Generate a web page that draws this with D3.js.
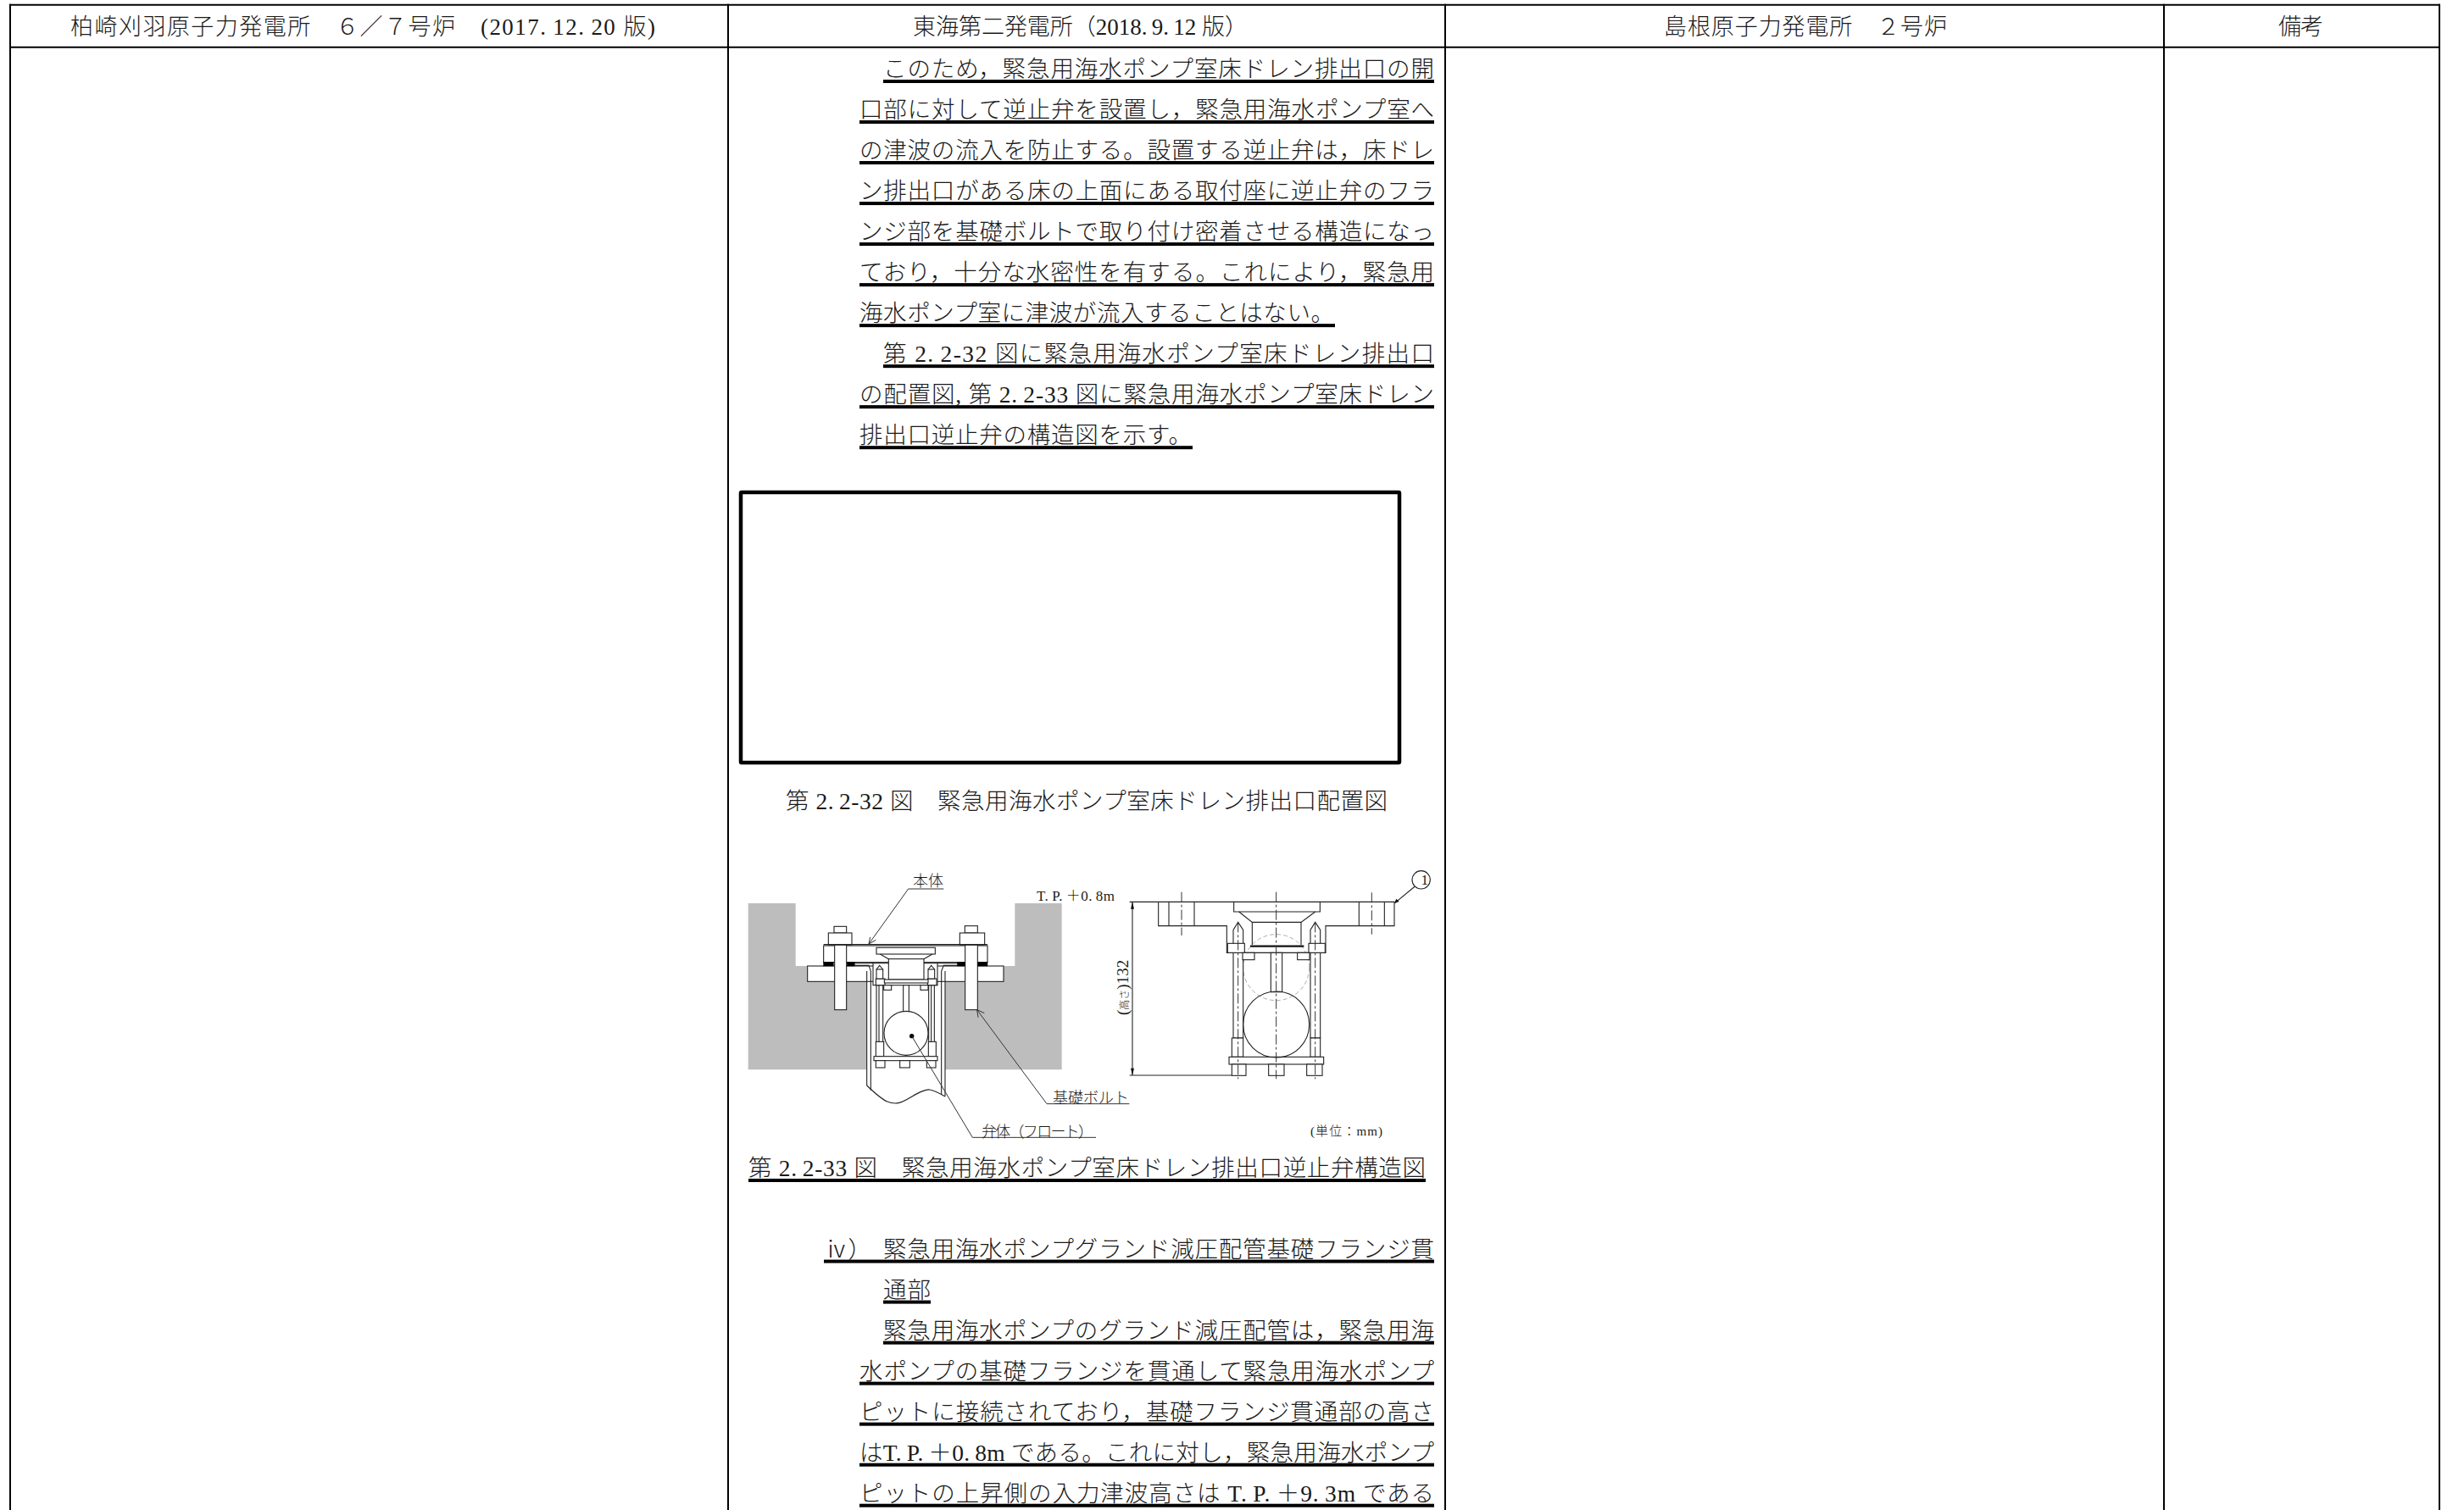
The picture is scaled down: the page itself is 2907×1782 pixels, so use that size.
<!DOCTYPE html>
<html>
<head>
<meta charset="utf-8">
<script src="https://cdn.jsdelivr.net/npm/d3@7"></script>
<style>
  html, body { margin: 0; background: #fff; }
  text { font-family: "Liberation Serif", "Noto Sans CJK JP", serif; font-weight: 300; fill: #1a1a1a; }
</style>
</head>
<body>
<div id="sheet"></div>
<script>
const width = 2907, height = 1782;

// table
const columnEdges = [12, 859, 1705, 2553, 2878];
const headerLabels = ['柏崎刈羽原子力発電所　６／７号炉　(2017.\u200912.\u200920 版)', '東海第二発電所（2018.\u20099.\u200912 版）', '島根原子力発電所　２号炉', '備考'];
const headerStarts = [83, 1077, 1963, 2688];
const headerEnds = [773, 1472, 2297, 2741];

// body text, one entry per printed line
const bodyLines = [
  'このため，緊急用海水ポンプ室床ドレン排出口の開',
  '口部に対して逆止弁を設置し，緊急用海水ポンプ室へ',
  'の津波の流入を防止する。設置する逆止弁は，床ドレ',
  'ン排出口がある床の上面にある取付座に逆止弁のフラ',
  'ンジ部を基礎ボルトで取り付け密着させる構造になっ',
  'ており，十分な水密性を有する。これにより，緊急用',
  '海水ポンプ室に津波が流入することはない。',
  '第 2.\u20092-32 図に緊急用海水ポンプ室床ドレン排出口',
  'の配置図, 第 2.\u20092-33 図に緊急用海水ポンプ室床ドレン',
  '排出口逆止弁の構造図を示す。',
  '緊急用海水ポンプグランド減圧配管基礎フランジ貫',
  '通部',
  '緊急用海水ポンプのグランド減圧配管は，緊急用海',
  '水ポンプの基礎フランジを貫通して緊急用海水ポンプ',
  'ピットに接続されており，基礎フランジ貫通部の高さ',
  'はT.\u2009P.\u2009＋0.\u20098m である。これに対し，緊急用海水ポンプ',
  'ピットの上昇側の入力津波高さは T.\u2009P.\u2009＋9.\u20093m である'
];
const bodyRows = [0, 1, 2, 3, 4, 5, 6, 7, 8, 9, 29, 30, 31, 32, 33, 34, 35];
const bodyStarts = [1042, 1014, 1014, 1014, 1014, 1014, 1014, 1042, 1014, 1014, 1042, 1042, 1042, 1014, 1014, 1014, 1014];
const bodyEnds = [1692, 1692, 1692, 1692, 1692, 1692, 1574, 1692, 1692, 1406, 1692, 1098, 1692, 1692, 1692, 1692, 1692];
const ruleStarts = [1042, 1014, 1014, 1014, 1014, 1014, 1014, 1042, 1014, 1014, 972, 1042, 1042, 1014, 1014, 1014, 1014];
const ruleEnds = [1692, 1692, 1692, 1692, 1692, 1692, 1575, 1692, 1692, 1407, 1692, 1098, 1692, 1692, 1692, 1692, 1692];
const listMarker = 'ⅳ）';

const caption32 = '第 2.\u20092-32 図　緊急用海水ポンプ室床ドレン排出口配置図';
const caption33 = '第 2.\u20092-33 図　緊急用海水ポンプ室床ドレン排出口逆止弁構造図';

// left figure, section view, in sheet units
const concrete = [[38,138],[206,138],[206,360],[982,360],[982,138],[1148,138],[1148,727],[38,727]];
const pitVoid = [[458,360],[735,360],[735,822],[680,798],[650,805],[570,845],[530,840],[458,783]];
const sectionBoxes = [
  [248,360,942,415],
  [305,288,885,347],
  [344,285,386,515],
  [806,285,850,515],
  [342,220,386,243],
  [805,218,850,243],
  [322,243,405,285],
  [787,243,875,285],
  [480,350,708,428],
  [492,295,700,318],
  [535,335,660,408],
  [587,428,607,522],
  [492,428,515,630],
  [677,428,697,630],
  [490,628,518,680],
  [676,628,703,680],
  [483,680,708,695],
  [490,695,522,720],
  [575,695,610,720],
  [670,695,702,720],
  [490,405,522,428],
  [673,405,705,428],
  [518,428,545,445],
  [648,428,675,445],
  [492,372,515,405],
  [675,372,698,405],
  [520,408,675,420]
];
const sectionGaskets = [[305,347,340,360],[388,347,415,360],[778,347,806,360],[850,347,885,360]];
const sectionLines = [
  [[415,350],[480,350]],
  [[708,350],[778,350]],
  [[415,358],[465,358],[472,378],[472,800]],
  [[778,358],[730,358],[722,378],[722,815]],
  [[458,378],[458,783]],
  [[735,378],[735,822]],
  [[305,284],[885,284]],
  [[505,318],[535,335]],
  [[690,318],[660,335]],
  [[492,372],[503,358],[515,372]],
  [[675,372],[686,358],[698,372]],
  [[501,428],[501,630]],
  [[686,428],[686,630]]
];
const pitBottom = [[458,783],[530,840],[570,845],[650,805],[680,798],[735,822]];
const sectionFloat = [[597,598,78]];
const sectionDots = [[617,608,8]];
const sectionLeaders = [
  [[730,87],[605,87],[465,282]],
  [[1387,848],[1095,848],[848,515]],
  [[1269,967],[832,967],[617,608]]
];
const leaderBarbs = [
  [[470,258],[465,282],[490,268]],
  [[874,527],[848,515],[852,542]]
];

// right figure, elevation view, in sheet units
const elevationLines = [
  [[230,133],[1065,133],[1065,218],[822,218],[822,313],[472,313],[472,218],[230,218],[230,133]],
  [[267,133],[267,218]], [[357,133],[357,218]],
  [[940,133],[940,218]], [[1030,133],[1030,218]],
  [[497,133],[497,168],[802,168],[802,133]],
  [[515,168],[562,205],[735,205],[785,168]],
  [[562,205],[562,285]], [[735,205],[735,285]],
  [[502,313],[502,615]], [[522,313],[522,615]],
  [[775,313],[775,615]], [[795,313],[795,615]],
  [[128,133],[230,133]],
  [[128,747],[490,747]],
  [[138,133],[138,747]],
  [[1138,78],[1067,137]],
  [[495,280],[495,232],[512,205],[530,232],[530,280]],
  [[768,280],[768,232],[785,205],[803,232],[803,280]]
];
const elevationBoxes = [
  [495,313,530,615],
  [768,313,803,615],
  [628,313,668,452],
  [475,280,535,313],
  [762,280,820,313],
  [528,313,570,338],
  [722,313,765,338],
  [490,615,530,682],
  [768,615,803,682],
  [480,682,815,708],
  [490,708,540,748],
  [620,708,675,748],
  [755,708,810,748]
];
const elevationHeavy = [[555,290,745,290]];
const elevationBall = [[647,567,117]];
const elevationGhost = [[647,365,117]];
const elevationBalloon = [[1160,55,32]];
const elevationArrows = [
  [[138,133],[132,158],[144,158]],
  [[138,747],[132,722],[144,722]],
  [[1065,138],[1072,122],[1082,132]]
];
const elevationCenters = [
  [[647,98],[647,760]],
  [[312,98],[312,252]],
  [[985,100],[985,248]],
  [[512,205],[512,760]],
  [[785,205],[785,760]]
];

const figureLabels = ['本体', 'T.\u2009P.\u2009＋0.\u20098m', '基礎ボルト', '弁体（フロート）', '(単位：mm)', '1'];
const labelStarts = [1077, 1223, 1242, 1158, 1546, 1676.5];
const labelEnds = [1113, 1315, 1332, 1290, 1631, 1683];
const labelBaselines = [1046, 1063, 1302, 1342, 1340, 1044];
const labelSizes = [18, 17, 18, 18, 15, 17];

const heightLabel = ['(', '高さ', ')132'];
const heightSizes = [19, 12, 19];

const svg = d3.select('#sheet').append('svg')
  .attr('width', width)
  .attr('height', height)
  .style('display', 'block');

svg.append('rect').attr('width', width).attr('height', height).attr('fill', '#fff');

// ---- table grid
const rowY = d3.scaleLinear().domain([0, 35]).range([96, 1776.7]);
const gridTop = 5.7, gridHead = 55.7;

svg.selectAll('.col').data(columnEdges).enter().append('line')
  .attr('class', 'col')
  .attr('x1', d => d).attr('x2', d => d)
  .attr('y1', gridTop - 1).attr('y2', height)
  .attr('stroke', '#000').attr('stroke-width', 2);

svg.selectAll('.head').data([gridTop, gridHead]).enter().append('line')
  .attr('class', 'head')
  .attr('x1', columnEdges[0] - 1).attr('x2', columnEdges[4] + 1)
  .attr('y1', d => d).attr('y2', d => d)
  .attr('stroke', '#000').attr('stroke-width', 2);

svg.selectAll('.headLabel').data(headerLabels).enter().append('text')
  .attr('class', 'headLabel')
  .attr('x', (d, i) => headerStarts[i])
  .attr('y', 41)
  .attr('font-size', 27)
  .attr('textLength', (d, i) => headerEnds[i] - headerStarts[i])
  .text(d => d);

// ---- body text with its underlines
svg.selectAll('.bodyLine').data(bodyLines).enter().append('text')
  .attr('class', 'bodyLine')
  .attr('x', (d, i) => bodyStarts[i])
  .attr('y', (d, i) => rowY(bodyRows[i]) - 5)
  .attr('font-size', 27.5)
  .attr('textLength', (d, i) => bodyEnds[i] - bodyStarts[i])
  .text(d => d);

svg.selectAll('.rule').data(bodyLines).enter().append('rect')
  .attr('class', 'rule')
  .attr('x', (d, i) => ruleStarts[i])
  .attr('y', (d, i) => rowY(bodyRows[i]) - 2)
  .attr('width', (d, i) => ruleEnds[i] - ruleStarts[i])
  .attr('height', 4);

svg.append('text')
  .attr('x', 973).attr('y', rowY(29) - 5)
  .attr('font-size', 27.5)
  .text(listMarker);

// ---- blanked figure 2.2-32
svg.append('rect')
  .attr('x', 874).attr('y', 581)
  .attr('width', 777).attr('height', 319)
  .attr('rx', 1)
  .attr('fill', '#fff').attr('stroke', '#000').attr('stroke-width', 4.5);

svg.append('text')
  .attr('x', 927).attr('y', 955)
  .attr('font-size', 27.5)
  .attr('textLength', 710)
  .text(caption32);

// ---- figure 2.2-33
function drawFigure(g, sx, sy) {
  const path = d3.line().x(d => sx(d[0])).y(d => sy(d[1]));
  return {
    polys(rows, fill, stroke, w) {
      g.selectAll(null).data(rows).enter().append('path')
        .attr('d', d => path(d))
        .attr('fill', fill).attr('stroke', stroke).attr('stroke-width', w);
    },
    boxes(rows, fill, stroke, w) {
      g.selectAll(null).data(rows).enter().append('rect')
        .attr('x', d => sx(d[0])).attr('y', d => sy(d[1]))
        .attr('width', d => sx(d[2]) - sx(d[0]))
        .attr('height', d => sy(d[3]) - sy(d[1]))
        .attr('fill', fill).attr('stroke', stroke).attr('stroke-width', w);
    },
    circles(rows, fill, stroke, w, dash) {
      g.selectAll(null).data(rows).enter().append('circle')
        .attr('cx', d => sx(d[0])).attr('cy', d => sy(d[1]))
        .attr('r', d => sx(d[2]) - sx(0))
        .attr('fill', fill).attr('stroke', stroke).attr('stroke-width', w)
        .attr('stroke-dasharray', dash || null);
    },
    curve(rows) {
      const smooth = d3.line().x(d => sx(d[0])).y(d => sy(d[1])).curve(d3.curveCatmullRom);
      g.append('path').attr('d', smooth(rows))
        .attr('fill', 'none').attr('stroke', '#222').attr('stroke-width', 1.2);
    },
    centers(rows) {
      g.selectAll(null).data(rows).enter().append('path')
        .attr('d', d => path(d))
        .attr('fill', 'none').attr('stroke', '#333').attr('stroke-width', 1)
        .attr('stroke-dasharray', '12 3 3 3');
    }
  };
}

const section = drawFigure(svg.append('g'),
  d3.scaleLinear().domain([0, 1260]).range([870, 1290]),
  d3.scaleLinear().domain([0, 1020]).range([1020, 1360]));

section.polys([concrete], '#bdbdbd', 'none', 0);
section.polys([pitVoid], '#fff', 'none', 0);
section.boxes(sectionBoxes, '#fff', '#222', 1.1);
section.boxes(sectionGaskets, '#000', '#000', 0.5);
section.polys(sectionLines, 'none', '#222', 1.1);
section.curve(pitBottom);
section.circles(sectionFloat, '#fff', '#222', 1.1);
section.circles(sectionDots, '#000', 'none', 0);
section.polys(sectionLeaders, 'none', '#333', 1);
section.polys(leaderBarbs, 'none', '#333', 1);

const elevation = drawFigure(svg.append('g'),
  d3.scaleLinear().domain([0, 1251]).range([1290, 1707]),
  d3.scaleLinear().domain([0, 1020]).range([1020, 1360]));

elevation.circles(elevationGhost, 'none', '#999', 0.8, '5 3');
elevation.polys(elevationLines, 'none', '#222', 1.1);
elevation.boxes(elevationBoxes, '#fff', '#222', 1.1);
elevation.polys(elevationHeavy.map(d => [[d[0], d[1]], [d[2], d[3]]]), 'none', '#111', 2.4);
elevation.circles(elevationBall, 'none', '#222', 1.1);
elevation.circles(elevationBalloon, '#fff', '#222', 1.1);
elevation.polys(elevationArrows, '#111', 'none', 0);
elevation.centers(elevationCenters);

svg.selectAll('.figLabel').data(figureLabels).enter().append('text')
  .attr('class', 'figLabel')
  .attr('x', (d, i) => labelStarts[i])
  .attr('y', (d, i) => labelBaselines[i])
  .attr('font-size', (d, i) => labelSizes[i])
  .attr('textLength', (d, i) => labelEnds[i] - labelStarts[i])
  .text(d => d);

svg.append('text')
  .attr('transform', 'translate(1331,1198) rotate(-90)')
  .selectAll('tspan').data(heightLabel).enter().append('tspan')
  .attr('font-size', (d, i) => heightSizes[i])
  .text(d => d);

svg.append('text')
  .attr('x', 883).attr('y', 1388)
  .attr('font-size', 27.5)
  .attr('textLength', 799)
  .text(caption33);

svg.append('rect')
  .attr('x', 883).attr('y', 1391)
  .attr('width', 799).attr('height', 4);
</script>
</body>
</html>
